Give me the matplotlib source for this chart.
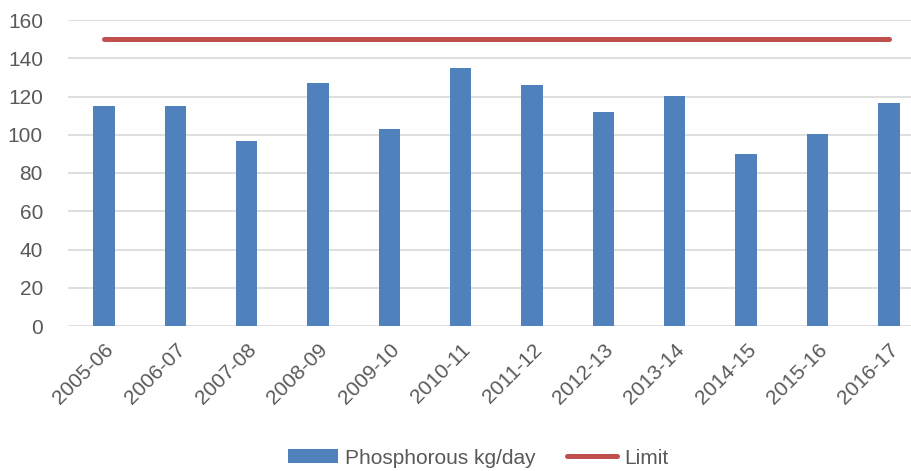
import matplotlib
matplotlib.use("Agg")
import matplotlib.pyplot as plt

years = ["2005-06", "2006-07", "2007-08", "2008-09", "2009-10", "2010-11",
         "2011-12", "2012-13", "2013-14", "2014-15", "2015-16", "2016-17"]
phosphorous = [115, 115, 96.5, 127, 103, 135, 126, 112, 120.5, 90, 100.5, 116.5]
limit = [150] * len(years)
yticks = [0, 20, 40, 60, 80, 100, 120, 140, 160]

plt.rcParams['font.family'] = ['Liberation Sans', 'DejaVu Sans']

fig = plt.figure(figsize=(9.12, 4.71), dpi=100)
ax = fig.add_axes([68/912, 145/471, 1 - 68/912, 306/471])

x = list(range(len(years)))
bars = ax.bar(x, phosphorous, width=0.3, color='#4F81BD', label='Phosphorous kg/day', zorder=3)
line, = ax.plot(x, limit, color='#C0504D', lw=3.6, solid_capstyle='round', label='Limit', zorder=4)

ax.set_xlim(-0.5045, 11.325)
ax.set_ylim(0, 160)
ax.set_yticks(yticks)
ax.set_yticklabels([str(v) for v in yticks])
ax.set_xticks(x)
ax.set_xticklabels(years, rotation=45, ha='right', rotation_mode='anchor')
ax.grid(axis='y', color='#D9D9D9', lw=1.2, zorder=0)
ax.set_axisbelow(True)
for s in ax.spines.values():
    s.set_visible(False)
ax.tick_params(axis='y', length=0, pad=18, labelsize=15, labelcolor='#595959')
ax.tick_params(axis='x', length=0, pad=10, labelsize=15, labelcolor='#595959')

fig.legend([bars, line], ['Phosphorous kg/day', 'Limit'],
           loc='center', bbox_to_anchor=(478/912, 1 - 458/471), ncol=2, frameon=False,
           fontsize=15, labelcolor='#595959', handlelength=2.4, handleheight=0.65,
           handletextpad=0.35, columnspacing=1.5)

fig.savefig('out.png', dpi=100)
